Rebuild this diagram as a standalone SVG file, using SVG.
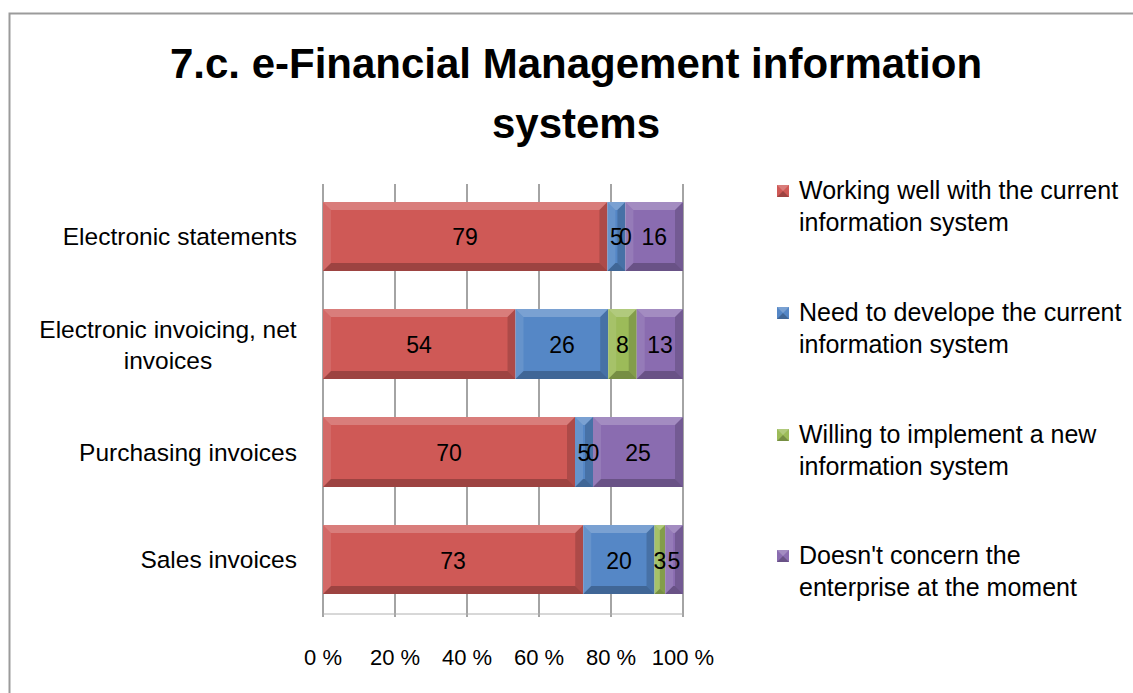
<svg xmlns="http://www.w3.org/2000/svg" width="1133" height="693" viewBox="0 0 1133 693">
<style>
text{font-family:"Liberation Sans",Arial,sans-serif;fill:#000}
.title{font-size:42px;font-weight:bold;text-anchor:middle}
.cat{font-size:24.5px;text-anchor:end}
.catc{font-size:24.5px;text-anchor:middle}
.val{font-size:23px;text-anchor:middle}
.leg{font-size:25px}
.ax{font-size:22px;text-anchor:middle}
.grid{stroke:#868686;stroke-width:1.5}
.red{fill:#CF5956}.blue{fill:#5587C6}.green{fill:#9CBB59}.purple{fill:#8A6CB0}
.hl{fill:#fff;opacity:.22}.hl2{fill:#fff;opacity:.1}.sh{fill:#000;opacity:.24}.sh2{fill:#000;opacity:.16}
</style>
<rect x="9.5" y="13.5" width="1140" height="700" fill="#fff" stroke="#9b9b9b" stroke-width="2"/>
<g id="title">
<text class="title" x="576" y="78">7.c. e-Financial Management information</text>
<text class="title" x="576" y="138">systems</text>
</g>
<g id="grid">
<line class="grid" x1="395" y1="184" x2="395" y2="617"/>
<line class="grid" x1="467" y1="184" x2="467" y2="617"/>
<line class="grid" x1="539" y1="184" x2="539" y2="617"/>
<line class="grid" x1="611" y1="184" x2="611" y2="617"/>
<line class="grid" x1="683" y1="184" x2="683" y2="617"/>
<line class="grid" x1="323" y1="184" x2="323" y2="617"/>
<line x1="323" y1="614" x2="683" y2="614" stroke="#b0b0b0" stroke-width="1"/>
</g>
<g id="categories">
<text class="cat" x="297" y="245">Electronic statements</text>
<text class="catc" x="168" y="338">Electronic invoicing, net</text>
<text class="catc" x="168" y="369">invoices</text>
<text class="cat" x="297" y="461">Purchasing invoices</text>
<text class="cat" x="297" y="568">Sales invoices</text>
</g>
<g id="bar-electronic-statements">
<rect class="red" x="323" y="202" width="284.4" height="69"/>
<polygon class="hl" points="323,202 607.4,202 599.4,210 331,210"/><polygon class="sh" points="323,271 607.4,271 599.4,263 331,263"/><polygon class="hl2" points="323,202 331,210 331,263 323,271"/><polygon class="sh2" points="607.4,202 599.4,210 599.4,263 607.4,271"/>
<rect class="blue" x="607.4" y="202" width="18" height="69"/>
<polygon class="hl" points="607.4,202 625.4,202 617.4,210 615.4,210"/><polygon class="sh" points="607.4,271 625.4,271 617.4,263 615.4,263"/><polygon class="hl2" points="607.4,202 615.4,210 615.4,263 607.4,271"/><polygon class="sh2" points="625.4,202 617.4,210 617.4,263 625.4,271"/>
<rect class="purple" x="625.4" y="202" width="57.6" height="69"/>
<polygon class="hl" points="625.4,202 683,202 675,210 633.4,210"/><polygon class="sh" points="625.4,271 683,271 675,263 633.4,263"/><polygon class="hl2" points="625.4,202 633.4,210 633.4,263 625.4,271"/><polygon class="sh2" points="683,202 675,210 675,263 683,271"/>
<text class="val" x="465" y="245">79</text><text class="val" x="616.4" y="245">5</text><text class="val" x="625.4" y="245">0</text><text class="val" x="654.2" y="245">16</text>
</g>
<g id="bar-electronic-invoicing">
<rect class="red" x="323" y="309" width="192.5" height="70"/>
<polygon class="hl" points="323,309 515.5,309 507.5,317 331,317"/><polygon class="sh" points="323,379 515.5,379 507.5,371 331,371"/><polygon class="hl2" points="323,309 331,317 331,371 323,379"/><polygon class="sh2" points="515.5,309 507.5,317 507.5,371 515.5,379"/>
<rect class="blue" x="515.5" y="309" width="92.7" height="70"/>
<polygon class="hl" points="515.5,309 608.2,309 600.2,317 523.5,317"/><polygon class="sh" points="515.5,379 608.2,379 600.2,371 523.5,371"/><polygon class="hl2" points="515.5,309 523.5,317 523.5,371 515.5,379"/><polygon class="sh2" points="608.2,309 600.2,317 600.2,371 608.2,379"/>
<rect class="green" x="608.2" y="309" width="28.5" height="70"/>
<polygon class="hl" points="608.2,309 636.7,309 628.7,317 616.2,317"/><polygon class="sh" points="608.2,379 636.7,379 628.7,371 616.2,371"/><polygon class="hl2" points="608.2,309 616.2,317 616.2,371 608.2,379"/><polygon class="sh2" points="636.7,309 628.7,317 628.7,371 636.7,379"/>
<rect class="purple" x="636.7" y="309" width="46.3" height="70"/>
<polygon class="hl" points="636.7,309 683,309 675,317 644.7,317"/><polygon class="sh" points="636.7,379 683,379 675,371 644.7,371"/><polygon class="hl2" points="636.7,309 644.7,317 644.7,371 636.7,379"/><polygon class="sh2" points="683,309 675,317 675,371 683,379"/>
<text class="val" x="419" y="353">54</text><text class="val" x="562" y="353">26</text><text class="val" x="622.5" y="353">8</text><text class="val" x="660" y="353">13</text>
</g>
<g id="bar-purchasing-invoices">
<rect class="red" x="323" y="417" width="252" height="70"/>
<polygon class="hl" points="323,417 575,417 567,425 331,425"/><polygon class="sh" points="323,487 575,487 567,479 331,479"/><polygon class="hl2" points="323,417 331,425 331,479 323,487"/><polygon class="sh2" points="575,417 567,425 567,479 575,487"/>
<rect class="blue" x="575" y="417" width="18" height="70"/>
<polygon class="hl" points="575,417 593,417 585,425 583,425"/><polygon class="sh" points="575,487 593,487 585,479 583,479"/><polygon class="hl2" points="575,417 583,425 583,479 575,487"/><polygon class="sh2" points="593,417 585,425 585,479 593,487"/>
<rect class="purple" x="593" y="417" width="90" height="70"/>
<polygon class="hl" points="593,417 683,417 675,425 601,425"/><polygon class="sh" points="593,487 683,487 675,479 601,479"/><polygon class="hl2" points="593,417 601,425 601,479 593,487"/><polygon class="sh2" points="683,417 675,425 675,479 683,487"/>
<text class="val" x="449" y="461">70</text><text class="val" x="584" y="461">5</text><text class="val" x="593" y="461">0</text><text class="val" x="638" y="461">25</text>
</g>
<g id="bar-sales-invoices">
<rect class="red" x="323" y="525" width="260.2" height="69"/>
<polygon class="hl" points="323,525 583.2,525 575.2,533 331,533"/><polygon class="sh" points="323,594 583.2,594 575.2,586 331,586"/><polygon class="hl2" points="323,525 331,533 331,586 323,594"/><polygon class="sh2" points="583.2,525 575.2,533 575.2,586 583.2,594"/>
<rect class="blue" x="583.2" y="525" width="71.3" height="69"/>
<polygon class="hl" points="583.2,525 654.5,525 646.5,533 591.2,533"/><polygon class="sh" points="583.2,594 654.5,594 646.5,586 591.2,586"/><polygon class="hl2" points="583.2,525 591.2,533 591.2,586 583.2,594"/><polygon class="sh2" points="654.5,525 646.5,533 646.5,586 654.5,594"/>
<rect class="green" x="654.5" y="525" width="10.7" height="69"/>
<polygon class="hl" points="654.5,525 665.2,525 659.85,530.35"/><polygon class="sh" points="654.5,594 665.2,594 659.85,588.65"/><polygon class="hl2" points="654.5,525 659.85,530.35 659.85,588.65 654.5,594"/><polygon class="sh2" points="665.2,525 659.85,530.35 659.85,588.65 665.2,594"/>
<rect class="purple" x="665.2" y="525" width="17.8" height="69"/>
<polygon class="hl" points="665.2,525 683,525 675,533 673.2,533"/><polygon class="sh" points="665.2,594 683,594 675,586 673.2,586"/><polygon class="hl2" points="665.2,525 673.2,533 673.2,586 665.2,594"/><polygon class="sh2" points="683,525 675,533 675,586 683,594"/>
<text class="val" x="453" y="569">73</text><text class="val" x="619" y="569">20</text><text class="val" x="660" y="569">3</text><text class="val" x="674" y="569">5</text>
</g>
<g id="axis-labels">
<text class="ax" x="323" y="665">0 %</text>
<text class="ax" x="395" y="665">20 %</text>
<text class="ax" x="467" y="665">40 %</text>
<text class="ax" x="539" y="665">60 %</text>
<text class="ax" x="611" y="665">80 %</text>
<text class="ax" x="683" y="665">100 %</text>
</g>
<g id="legend-working">
<rect class="red" x="777" y="185" width="12" height="12"/><polygon class="sh" points="777,197 789,197 783,191"/><polygon class="hl" points="777,185 789,185 783,191"/>
<text class="leg" x="799" y="199">Working well with the current</text>
<text class="leg" x="799" y="231">information system</text>
</g>
<g id="legend-need">
<rect class="blue" x="777" y="307" width="12" height="12"/><polygon class="sh" points="777,319 789,319 783,313"/><polygon class="hl" points="777,307 789,307 783,313"/>
<text class="leg" x="799" y="321">Need to develope the current</text>
<text class="leg" x="799" y="353">information system</text>
</g>
<g id="legend-willing">
<rect class="green" x="777" y="429" width="12" height="12"/><polygon class="sh" points="777,441 789,441 783,435"/><polygon class="hl" points="777,429 789,429 783,435"/>
<text class="leg" x="799" y="443">Willing to implement a new</text>
<text class="leg" x="799" y="475">information system</text>
</g>
<g id="legend-doesnt">
<rect class="purple" x="777" y="550" width="12" height="12"/><polygon class="sh" points="777,562 789,562 783,556"/><polygon class="hl" points="777,550 789,550 783,556"/>
<text class="leg" x="799" y="564">Doesn't concern the</text>
<text class="leg" x="799" y="596">enterprise at the moment</text>
</g>
</svg>
